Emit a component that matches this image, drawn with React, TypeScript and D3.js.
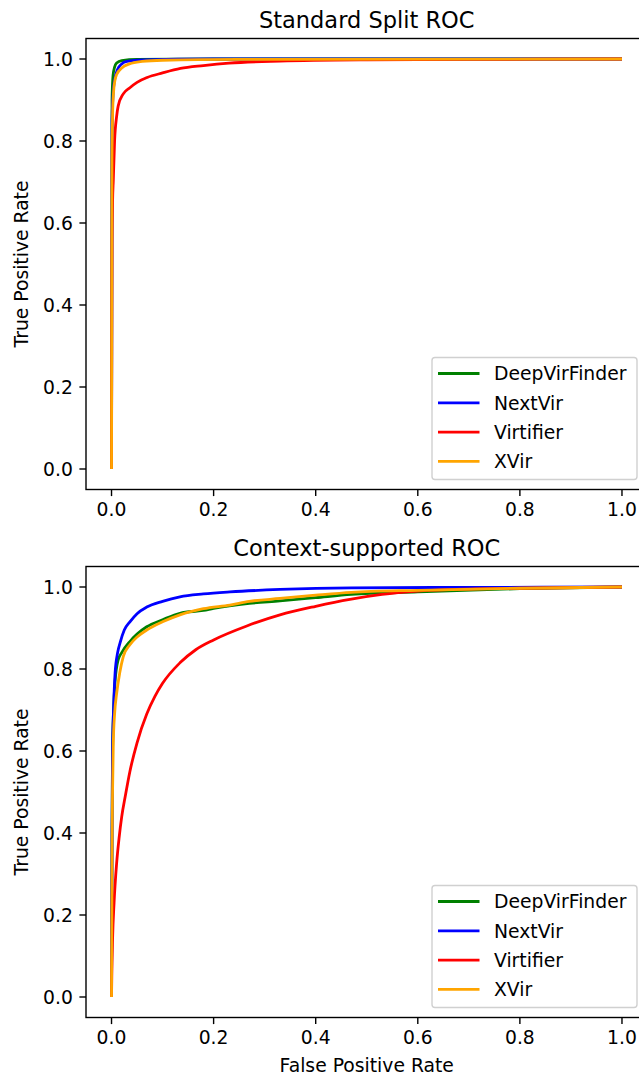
import React from 'react';
import * as d3 from 'd3';

// legend / colour order (also the plotting order)
const seriesNames = ['DeepVirFinder', 'NextVir', 'Virtifier', 'XVir'];
const seriesColors = ['green', 'blue', 'red', 'orange'];
const tickValues = [0, 0.2, 0.4, 0.6, 0.8, 1.0];

// Standard split ROC
const stdDvfFpr = [0, 0.001, 0.003, 0.006, 0.01, 0.02, 0.05, 0.2, 1];
const stdDvfTpr = [0, 0.9, 0.96, 0.98, 0.99, 0.996, 0.999, 1, 1];
const stdNvFpr = [0, 0.001, 0.004, 0.008, 0.012, 0.02, 0.03, 0.06, 0.2, 1];
const stdNvTpr = [0, 0.85, 0.93, 0.96, 0.975, 0.988, 0.994, 0.998, 1, 1];
const stdVtFpr = [0, 0.0005, 0.001, 0.002, 0.0035, 0.006, 0.01, 0.013, 0.023, 0.036, 0.05, 0.07, 0.1, 0.135, 0.18, 0.23, 0.33, 0.5, 0.7, 1];
const stdVtTpr = [0, 0.3, 0.55, 0.65, 0.705, 0.8, 0.86, 0.885, 0.915, 0.93, 0.943, 0.955, 0.966, 0.977, 0.984, 0.99, 0.995, 0.998, 0.999, 1];
const stdXvFpr = [0, 0.0008, 0.002, 0.004, 0.007, 0.01, 0.02, 0.035, 0.06, 0.1, 0.25, 1];
const stdXvTpr = [0, 0.75, 0.86, 0.92, 0.95, 0.962, 0.978, 0.988, 0.994, 0.997, 0.999, 1];

// Context-supported ROC
const ctxDvfFpr = [0, 0.001, 0.002, 0.004, 0.007, 0.013, 0.02, 0.036, 0.05, 0.069, 0.1, 0.134, 0.18, 0.2, 0.27, 0.33, 0.4, 0.47, 0.6, 0.8, 1];
const ctxDvfTpr = [0, 0.4, 0.6, 0.7, 0.77, 0.822, 0.84, 0.867, 0.885, 0.903, 0.92, 0.936, 0.943, 0.948, 0.96, 0.966, 0.974, 0.982, 0.988, 0.996, 1];
const ctxNvFpr = [0, 0.001, 0.002, 0.004, 0.007, 0.012, 0.017, 0.025, 0.036, 0.05, 0.069, 0.1, 0.134, 0.18, 0.232, 0.33, 0.47, 0.7, 1];
const ctxNvTpr = [0, 0.4, 0.6, 0.7, 0.79, 0.84, 0.865, 0.895, 0.915, 0.935, 0.951, 0.965, 0.976, 0.983, 0.988, 0.994, 0.998, 0.999, 1];
const ctxVtFpr = [0, 0.0005, 0.002, 0.005, 0.01, 0.015, 0.02, 0.027, 0.036, 0.05, 0.069, 0.085, 0.1, 0.134, 0.165, 0.2, 0.265, 0.33, 0.4, 0.467, 0.53, 0.6, 0.7, 0.8, 1];
const ctxVtTpr = [0, 0.05, 0.14, 0.23, 0.326, 0.39, 0.44, 0.49, 0.55, 0.62, 0.69, 0.733, 0.765, 0.815, 0.847, 0.871, 0.905, 0.932, 0.953, 0.97, 0.982, 0.99, 0.995, 0.997, 1];
const ctxXvFpr = [0, 0.001, 0.002, 0.0035, 0.006, 0.01, 0.016, 0.023, 0.036, 0.05, 0.069, 0.1, 0.134, 0.18, 0.232, 0.27, 0.33, 0.4, 0.47, 0.6, 0.8, 1];
const ctxXvTpr = [0, 0.35, 0.5, 0.62, 0.69, 0.74, 0.79, 0.83, 0.859, 0.878, 0.895, 0.915, 0.932, 0.947, 0.956, 0.965, 0.972, 0.98, 0.987, 0.992, 0.997, 1];

const font = '"DejaVu Sans", sans-serif';
const W = 639;
const H = 1078;

type Curve = { fpr: number[]; tpr: number[] };

function Panel({ title, top, bottom, curves, xLabel }: { title: string; top: number; bottom: number; curves: Curve[]; xLabel?: string }) {
    const left = 86;
    const right = 647.5;
    const x = d3.scaleLinear().domain([-0.05, 1.05]).range([left, right]);
    const y = d3.scaleLinear().domain([-0.05, 1.05]).range([bottom, top]);
    const line = d3.line<[number, number]>()
        .x(d => x(d[0]))
        .y(d => y(d[1]))
        .curve(d3.curveMonotoneX);

    const tickLen = 6.6;
    const fs = 18.75;

    // legend box in lower right corner
    const lgW = 205;
    const lgH = 122;
    const lgX = right - 10.5 - lgW;
    const lgY = bottom - 10 - lgH;

    return (
        <g>
            <text x={(left + right) / 2} y={top - 11} textAnchor="middle" fontSize={22.5} fontFamily={font} fill="#000">{title}</text>

            {curves.map((c, i) => (
                <path
                    key={i}
                    d={line(c.fpr.map((f, j) => [f, c.tpr[j]]) as [number, number][]) || ''}
                    fill="none"
                    stroke={seriesColors[i]}
                    strokeWidth={2.8}
                    strokeLinejoin="round"
                    strokeLinecap="butt"
                />
            ))}

            {/* spines */}
            <rect x={left} y={top} width={right - left} height={bottom - top} fill="none" stroke="#000" strokeWidth={1.4} />

            {/* x ticks */}
            {tickValues.map(t => (
                <g key={'x' + t}>
                    <line x1={x(t)} x2={x(t)} y1={bottom} y2={bottom + tickLen} stroke="#000" strokeWidth={1.4} />
                    <text x={x(t)} y={bottom + tickLen + 6 + 14} textAnchor="middle" fontSize={fs} fontFamily={font} fill="#000">{t.toFixed(1)}</text>
                </g>
            ))}
            {/* y ticks */}
            {tickValues.map(t => (
                <g key={'y' + t}>
                    <line x1={left - tickLen} x2={left} y1={y(t)} y2={y(t)} stroke="#000" strokeWidth={1.4} />
                    <text x={left - tickLen - 6.5} y={y(t)} dy="0.36em" textAnchor="end" fontSize={fs} fontFamily={font} fill="#000">{t.toFixed(1)}</text>
                </g>
            ))}

            <text
                transform={`translate(28, ${(top + bottom) / 2}) rotate(-90)`}
                textAnchor="middle"
                fontSize={fs}
                fontFamily={font}
                fill="#000"
            >True Positive Rate</text>
            {xLabel && (
                <text x={(left + right) / 2} y={bottom + 54} textAnchor="middle" fontSize={fs} fontFamily={font} fill="#000">{xLabel}</text>
            )}

            {/* legend */}
            <rect x={lgX} y={lgY} width={lgW} height={lgH} rx={3} fill="#fff" fillOpacity={0.8} stroke="#d0d0d0" strokeWidth={1.4} />
            {seriesNames.map((name, i) => {
                const cy = lgY + 16 + i * 29.3;
                return (
                    <g key={name}>
                        <line x1={lgX + 6} x2={lgX + 47.5} y1={cy} y2={cy} stroke={seriesColors[i]} strokeWidth={2.8} />
                        <text x={lgX + 62} y={cy} dy="0.36em" fontSize={fs} fontFamily={font} fill="#000">{name}</text>
                    </g>
                );
            })}
        </g>
    );
}

export default function App() {
    const stdCurves: Curve[] = [
        { fpr: stdDvfFpr, tpr: stdDvfTpr },
        { fpr: stdNvFpr, tpr: stdNvTpr },
        { fpr: stdVtFpr, tpr: stdVtTpr },
        { fpr: stdXvFpr, tpr: stdXvTpr },
    ];
    const ctxCurves: Curve[] = [
        { fpr: ctxDvfFpr, tpr: ctxDvfTpr },
        { fpr: ctxNvFpr, tpr: ctxNvTpr },
        { fpr: ctxVtFpr, tpr: ctxVtTpr },
        { fpr: ctxXvFpr, tpr: ctxXvTpr },
    ];

    return (
        <svg width={W} height={H} style={{ position: 'absolute', left: 0, top: 0, display: 'block', background: '#fff' }}>
            <rect width={W} height={H} fill="#fff" />
            <Panel title="Standard Split ROC" top={38.5} bottom={489.5} curves={stdCurves} />
            <Panel title="Context-supported ROC" top={566.5} bottom={1017.5} curves={ctxCurves} xLabel="False Positive Rate" />
        </svg>
    );
}
